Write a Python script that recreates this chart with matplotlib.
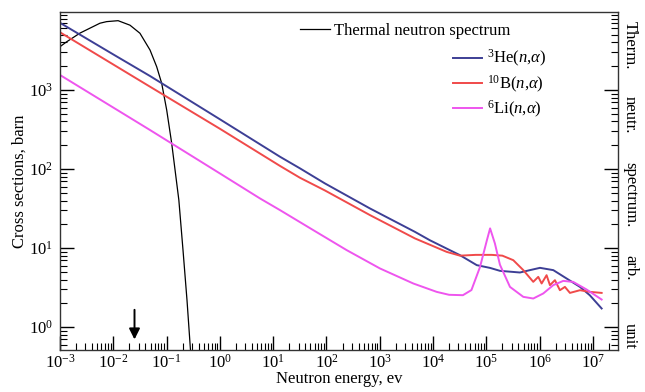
import matplotlib
matplotlib.use('Agg')
import matplotlib.pyplot as plt
import matplotlib.ticker as mticker
import numpy as np

plt.rcParams['font.family'] = ['Liberation Serif', 'DejaVu Serif']
plt.rcParams['mathtext.fontset'] = 'custom'
plt.rcParams['mathtext.rm'] = 'Liberation Serif'
plt.rcParams['mathtext.it'] = 'Liberation Serif:italic'
plt.rcParams['axes.unicode_minus'] = False
plt.rcParams['font.size'] = 12

# values, as log10(E / eV) and log10(value)
he3_loge = [-3.0, -2.0, -1.311, 0.0, 1.128, 1.503, 1.97, 2.816, 3.66, 3.94, 4.505,
            4.82, 5.07, 5.255, 5.63, 5.818, 6.006, 6.256, 6.506, 6.756, 6.94, 7.163]
he3_logs = [3.85, 3.45, 3.177, 2.63, 2.156, 2.009, 1.819, 1.502, 1.206, 1.10, 0.911,
            0.785, 0.75, 0.713, 0.692, 0.722, 0.751, 0.722, 0.616, 0.51, 0.405, 0.237]

b10_loge = [-3.0, -1.311, 0.0, 1.128, 1.503, 1.97, 2.816, 3.66, 4.255, 4.505, 4.8,
            5.1, 5.3, 5.505, 5.693, 5.88, 5.974, 6.037, 6.13, 6.193, 6.287, 6.38,
            6.474, 6.568, 6.756, 6.944, 7.163]
b10_logs = [3.73, 3.042, 2.51, 2.04, 1.89, 1.73, 1.418, 1.123, 0.953, 0.905, 0.915,
            0.915, 0.905, 0.848, 0.722, 0.574, 0.637, 0.553, 0.658, 0.532, 0.595, 0.468,
            0.51, 0.434, 0.468, 0.447, 0.434]

li6_loge = [-3.0, -1.311, 0.0, 0.752, 1.128, 1.752, 2.379, 3.004, 3.629, 4.068, 4.3,
            4.56, 4.72, 4.88, 5.01, 5.07, 5.16, 5.255, 5.443, 5.693, 5.88, 6.068,
            6.255, 6.443, 6.63, 6.88, 7.163]
li6_logs = [3.19, 2.494, 1.945, 1.629, 1.481, 1.228, 0.975, 0.743, 0.553, 0.447, 0.41,
            0.405, 0.47, 0.76, 1.10, 1.25, 1.06, 0.79, 0.51, 0.384, 0.363, 0.427,
            0.532, 0.586, 0.573, 0.477, 0.35]

thermal_loge = [-3.0, -2.875, -2.625, -2.25, -2.125, -1.91, -1.687, -1.5, -1.311, -1.186,
                -1.092, -0.998, -0.904, -0.77, -0.692, -0.617, -0.53]
thermal_logs = [3.548, 3.61, 3.72, 3.845, 3.865, 3.877, 3.82, 3.718, 3.506, 3.295,
                3.085, 2.747, 2.325, 1.608, 0.975, 0.342, -0.5]

arrow_energy = 0.025

series = [
    (he3_loge, he3_logs, '#3d3f95', r'$^{\mathdefault{3}}$He($n$,$\alpha$)'),
    (b10_loge, b10_logs, '#f04a4a', r'$^{\mathdefault{10}}$B($n$,$\alpha$)'),
    (li6_loge, li6_logs, '#ee55ee', r'$^{\mathdefault{6}}$Li($n$,$\alpha$)'),
]

fig = plt.figure(figsize=(6.45, 3.92), dpi=100)
ax = fig.add_axes([60 / 645, 42 / 392, 558 / 645, 338 / 392])

(th_line,) = ax.plot(10 ** np.array(thermal_loge), 10 ** np.array(thermal_logs),
                     color='black', lw=0.9)
lines = []
for loge, logs, color, label in series:
    (ln,) = ax.plot(10 ** np.array(loge), 10 ** np.array(logs), color=color, lw=1.4, label=label)
    lines.append(ln)

ax.set_xscale('log')
ax.set_yscale('log')
ax.set_xlim(1e-3, 10 ** 7.47)
ax.set_ylim(0.515, 9700)

ax.xaxis.set_major_locator(mticker.LogLocator(base=10, numticks=20))
ax.xaxis.set_minor_locator(mticker.LogLocator(base=10, subs=np.arange(2, 10), numticks=20))
ax.xaxis.set_minor_formatter(mticker.NullFormatter())
ax.yaxis.set_minor_locator(mticker.LogLocator(base=10, subs=np.arange(2, 10), numticks=20))
ax.yaxis.set_minor_formatter(mticker.NullFormatter())

ax.tick_params(which='both', direction='in', top=False, right=True, labelsize=12)
ax.tick_params(axis='x', pad=3)
ax.tick_params(axis='y', pad=5)
ax.tick_params(which='major', length=10, width=1.0)
ax.tick_params(which='minor', length=5, width=0.8)
for sp in ax.spines.values():
    sp.set_color('#333333')
    sp.set_linewidth(1.0)

ax.set_xlabel('Neutron energy, ev', fontsize=12)
ax.set_ylabel('Cross sections, barn', fontsize=12)
ax.xaxis.set_label_coords(0.5, -21 / 338, transform=ax.transAxes)
ax.yaxis.set_label_coords(-32 / 558, 0.5, transform=ax.transAxes)

# arrow marking the thermal energy
ax.annotate('', xy=(arrow_energy, 0.646), xytext=(arrow_energy, 1.8),
            arrowprops=dict(arrowstyle='-|>', color='black', lw=1.4, mutation_scale=16))

# right side label
for word, ypix in [('Therm.', 45), ('neutr.', 115), ('spectrum.', 195), ('arb.', 268), ('unit', 336)]:
    fig.text(630 / 645, 1 - ypix / 392, word, rotation=-90, ha='center', va='center', fontsize=12)

leg1 = ax.legend([th_line], ['Thermal neutron spectrum'], loc='center left',
                 bbox_to_anchor=(292 / 645, 1 - 31 / 392), bbox_transform=fig.transFigure,
                 frameon=False, borderpad=0, handlelength=1.8, handletextpad=0.2, fontsize=12)
ax.add_artist(leg1)
ax.legend(lines, [s[3] for s in series], loc='upper left',
          bbox_to_anchor=(445 / 645, 1 - 40 / 392), bbox_transform=fig.transFigure,
          frameon=False, borderpad=0, handlelength=1.7, handletextpad=0.3,
          labelspacing=0.25, fontsize=12)

fig.savefig('out.png', dpi=100)
